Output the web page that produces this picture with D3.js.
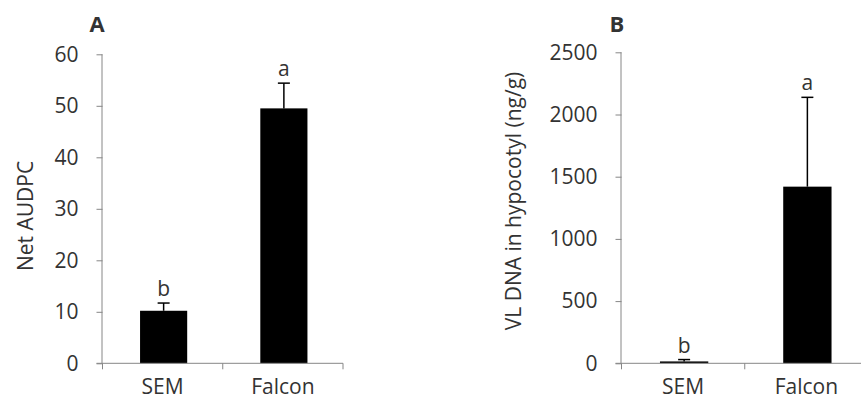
<!DOCTYPE html>
<html>
<head>
<meta charset="utf-8">
<script src="https://cdn.jsdelivr.net/npm/d3@7"></script>
<style>
  html, body { margin: 0; padding: 0; background: #fff; }
  svg text { font-family: "Open Sans", "DejaVu Sans", sans-serif; fill: #333; }
</style>
</head>
<body>
<svg id="chart" width="861" height="400"></svg>
<script>
// ---- Data ----
const categories = ["SEM", "Falcon"];
const audpcValues = [10.2, 49.5];
const audpcErrors = [1.5, 4.9];
const audpcLetters = ["b", "a"];
const audpcTicks = [0, 10, 20, 30, 40, 50, 60];

const dnaValues = [15, 1420];
const dnaErrors = [15, 718];
const dnaLetters = ["b", "a"];
const dnaTicks = [0, 500, 1000, 1500, 2000, 2500];

const svg = d3.select("#chart");
svg.append("rect").attr("width", 861).attr("height", 400).attr("fill", "#fff");

const axisColor = "#868686";
const fontSize = 21;

function panel(opts) {
  const g = svg.append("g");
  const x = d3.scaleBand().domain(categories)
    .range([opts.x0, opts.x1]).paddingInner(0.608).paddingOuter(0.304);
  const y = d3.scaleLinear().domain([0, opts.ymax]).range([opts.yBottom, opts.yTop]);
  const step = x.step();

  // Bars
  g.selectAll("rect.bar").data(categories).enter().append("rect")
    .attr("class", "bar")
    .attr("x", d => x(d) + 1)
    .attr("width", x.bandwidth())
    .attr("y", (d, i) => y(opts.values[i]))
    .attr("height", (d, i) => y(0) - y(opts.values[i]))
    .attr("fill", "#000");

  // Error bars
  categories.forEach((c, i) => {
    const cx = x(c) + 1 + x.bandwidth() / 2;
    const top = y(opts.values[i] + opts.errors[i]);
    g.append("line").attr("x1", cx).attr("x2", cx)
      .attr("y1", y(opts.values[i])).attr("y2", top)
      .attr("stroke", "#000").attr("stroke-width", 1.5);
    g.append("line").attr("x1", cx - 6).attr("x2", cx + 6)
      .attr("y1", top).attr("y2", top)
      .attr("stroke", "#000").attr("stroke-width", 1.5);
    g.append("text").attr("x", cx).attr("y", top - 7)
      .attr("text-anchor", "middle").attr("font-size", fontSize)
      .text(opts.letters[i]);
  });

  // Y axis
  const yAxis = d3.axisLeft(y).tickValues(opts.ticks).tickSize(6).tickPadding(18)
    .tickFormat(d3.format("d"));
  const ya = g.append("g").attr("transform", `translate(${opts.x0},0)`).call(yAxis);
  ya.select(".domain").attr("stroke", axisColor).attr("d", `M-0.5,${opts.yTop}V${opts.yBottom}`);
  ya.selectAll(".tick line").attr("stroke", axisColor);
  ya.selectAll(".tick text").attr("font-size", fontSize).attr("fill", "#333")
    .attr("font-family", "'Open Sans', sans-serif");

  // X axis line + category boundary ticks
  g.append("line").attr("x1", opts.x0 - 6).attr("x2", opts.x1)
    .attr("y1", opts.yBottom).attr("y2", opts.yBottom)
    .attr("stroke", axisColor).attr("stroke-width", 1);
  const bounds = [opts.x0].concat(categories.map(c => x(c) - step * 0.304 + step));
  bounds.forEach(b => {
    g.append("line").attr("x1", b).attr("x2", b)
      .attr("y1", opts.yBottom).attr("y2", opts.yBottom + 6)
      .attr("stroke", axisColor).attr("stroke-width", 1);
  });
  g.selectAll("text.xl").data(categories).enter().append("text")
    .attr("class", "xl")
    .attr("x", d => x(d) + x.bandwidth() / 2)
    .attr("y", 394)
    .attr("text-anchor", "middle").attr("font-size", fontSize)
    .text(d => d);

  // Y label
  g.append("text")
    .attr("transform", `translate(${opts.labelX},${opts.labelY}) rotate(-90)`)
    .attr("text-anchor", "middle").attr("dominant-baseline", "central")
    .attr("font-size", fontSize)
    .text(opts.label);

  // Panel title
  g.append("text").attr("x", opts.titleX).attr("y", 32)
    .attr("text-anchor", "middle").attr("font-size", 22)
    .attr("font-weight", "bold").attr("fill", "#000")
    .text(opts.title);
}

panel({
  x0: 102.5, x1: 343, yTop: 54.3, yBottom: 363.3, ymax: 60,
  values: audpcValues, errors: audpcErrors, letters: audpcLetters, ticks: audpcTicks,
  label: "Net AUDPC", labelX: 25, labelY: 216, title: "A", titleX: 97
});
panel({
  x0: 621.5, x1: 868, yTop: 52.3, yBottom: 363.3, ymax: 2500,
  values: dnaValues, errors: dnaErrors, letters: dnaLetters, ticks: dnaTicks,
  label: "VL DNA in hypocotyl (ng/g)", labelX: 513, labelY: 201, title: "B", titleX: 617
});
</script>
</body>
</html>
